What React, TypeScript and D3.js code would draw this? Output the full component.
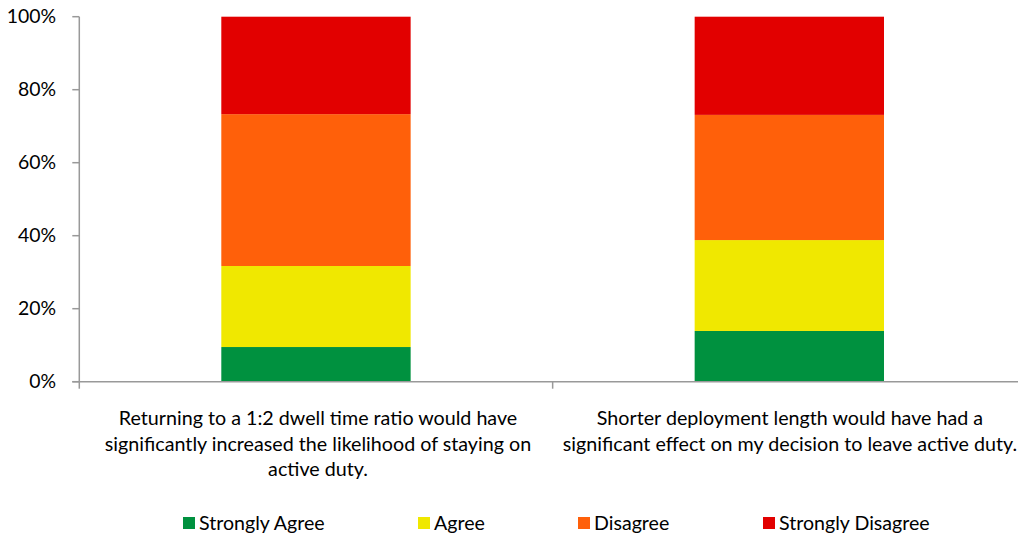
import React from "react";
import * as d3 from "d3";

const categories = [
  "Returning to a 1:2 dwell time ratio would have significantly increased the likelihood of staying on active duty.",
  "Shorter deployment length would have had a significant effect on my decision to leave active duty.",
];
const categoryLines = [
  ["Returning to a 1:2 dwell time ratio would have", "significantly increased the likelihood of staying on", "active duty."],
  ["Shorter deployment length would have had a", "significant effect on my decision to leave active duty."],
];
const seriesNames = ["Strongly Agree", "Agree", "Disagree", "Strongly Disagree"];
const stronglyAgree = [9.5, 13.9];
const agree = [22.2, 24.9];
const disagree = [41.6, 34.3];
const stronglyDisagree = [26.7, 26.9];
const colors = ["#00913F", "#F0E800", "#FF600A", "#E20000"];
const yTicks = [0, 20, 40, 60, 80, 100];

const W = 1018;
const H = 537;
const FONT = "Lato, 'Open Sans', sans-serif";

export default function App() {
  const left = 79.3;
  const right = 1026;
  const top = 16.7;
  const bottom = 381.7;

  const x = d3.scaleBand<number>().domain([0, 1]).range([left, right]).paddingInner(0).paddingOuter(0);
  const y = d3.scaleLinear().domain([0, 100]).range([bottom, top]);
  const barW = x.bandwidth() * 0.4;

  const rows = categories.map((c, i) => ({
    i,
    sa: stronglyAgree[i],
    a: agree[i],
    d: disagree[i],
    sd: stronglyDisagree[i],
  }));
  const stack = d3.stack<any>().keys(["sa", "a", "d", "sd"])(rows);

  const legendX = [183, 418, 578, 763];
  const labelCx = [318, 790];

  return (
    <svg width={W} height={H} style={{ position: "absolute", left: 0, top: 0, background: "#fff" }} fontFamily={FONT}>
      {stack.map((layer, si) =>
        layer.map((seg, ci) => {
          const x0 = (x(ci) as number) + (x.bandwidth() - barW) / 2;
          return (
            <rect
              key={`${si}-${ci}`}
              x={x0}
              y={y(seg[1])}
              width={barW}
              height={y(seg[0]) - y(seg[1])}
              fill={colors[si]}
            />
          );
        })
      )}
      <line x1={left} x2={left} y1={top} y2={bottom} stroke="#999" strokeWidth={1.5} />
      {yTicks.map((t) => (
        <g key={t}>
          <line x1={left - 7} x2={left} y1={y(t)} y2={y(t)} stroke="#999" strokeWidth={1.5} />
          <text x={56} y={y(t)} dy="0.35em" textAnchor="end" fontSize={19.4} fill="#000">
            {t}%
          </text>
        </g>
      ))}
      <line x1={left - 7} x2={W} y1={bottom} y2={bottom} stroke="#999" strokeWidth={1.5} />
      {[0, 1, 2].map((k) => {
        const xx = left + k * x.bandwidth();
        return <line key={k} x1={xx} x2={xx} y1={bottom} y2={bottom + 7} stroke="#999" strokeWidth={1.5} />;
      })}
      {categoryLines.map((lines, ci) => (
        <text key={ci} textAnchor="middle" fontSize={19.7} fill="#000">
          {lines.map((l, li) => (
            <tspan key={li} x={labelCx[ci]} y={425 + li * 25.5}>
              {l}
            </tspan>
          ))}
        </text>
      ))}
      {seriesNames.map((s, i) => (
        <g key={s}>
          <rect x={legendX[i]} y={517} width={12} height={12} fill={colors[i]} />
          <text x={legendX[i] + 16} y={523} dy="0.35em" fontSize={19.6} fill="#000">
            {s}
          </text>
        </g>
      ))}
    </svg>
  );
}
